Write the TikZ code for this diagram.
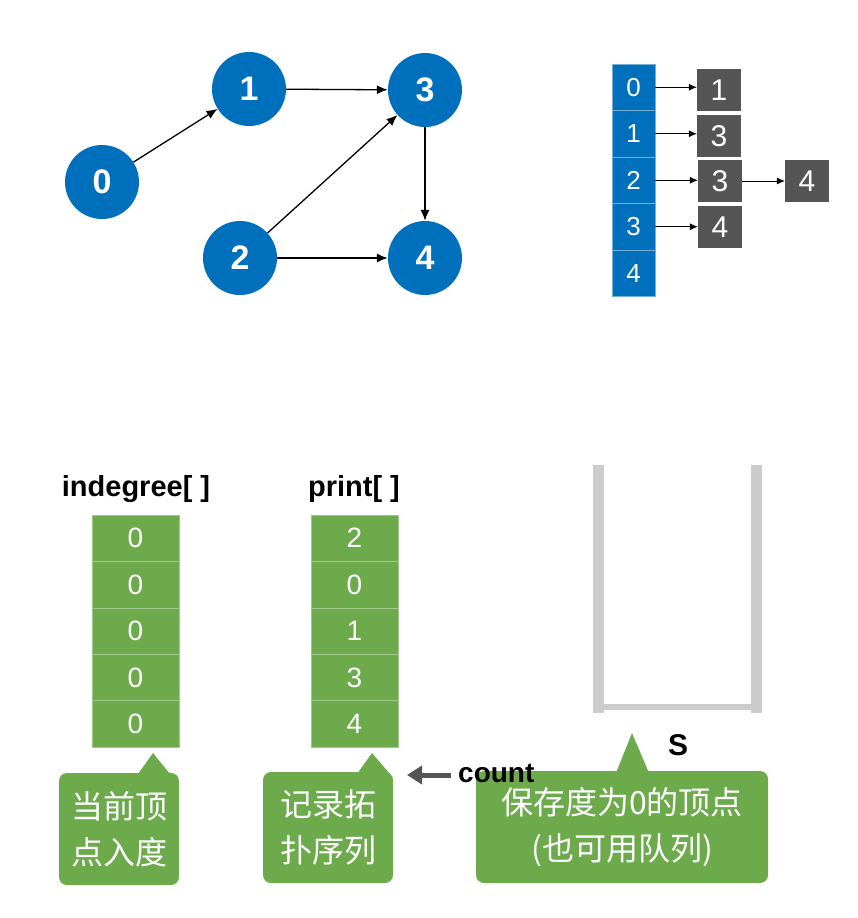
\documentclass[tikz,border=0pt]{standalone}
\usepackage{fontspec}
\setmainfont{Liberation Sans}
\newfontfamily\cjk{Noto Sans CJK SC}
\usetikzlibrary{arrows.meta}
\definecolor{vblue}{RGB}{0,112,188}
\definecolor{cellgreen}{RGB}{108,170,76}
\definecolor{boxgray}{RGB}{85,85,85}
\definecolor{stackgray}{RGB}{204,204,204}
\begin{document}
\begin{tikzpicture}[x=1pt,y=-1pt,
    vertex/.style={circle,fill=vblue,text=white,minimum size=74pt,inner sep=0pt,
      font=\fontsize{34}{34}\selectfont\bfseries},
    edge/.style={-{Latex[length=11pt,width=9pt]},line width=1.3pt},
    adjcell/.style={rectangle,fill=vblue,draw=vblue!55!white,line width=0.6pt,
      minimum width=43pt,minimum height=46.5pt,inner sep=0pt,text=white,
      font=\fontsize{26}{26}\selectfont},
    listbox/.style={rectangle,fill=boxgray,minimum width=44pt,minimum height=42pt,
      inner sep=0pt,text=white,font=\fontsize{30}{30}\selectfont},
    link/.style={-{Latex[length=8pt,width=7pt]},line width=0.8pt},
    arrcell/.style={rectangle,fill=cellgreen,draw=cellgreen!65!white,line width=0.6pt,
      minimum width=87pt,minimum height=46.4pt,inner sep=0pt,text=white,
      font=\fontsize{28}{28}\selectfont},
    title/.style={font=\fontsize{29}{29}\selectfont\bfseries},
    callbox/.style={rectangle,rounded corners=8pt,fill=cellgreen,text=white,
      align=center,inner sep=0pt,font=\cjk\fontsize{32}{46}\selectfont},
    bar/.style={fill=stackgray}]
\useasboundingbox (0,0) rectangle (858,918);

% graph
\node[vertex] (v0) at (102,182) {0};
\node[vertex] (v1) at (249,89) {1};
\node[vertex] (v3) at (425,90) {3};
\node[vertex] (v2) at (240,258) {2};
\node[vertex] (v4) at (425,258) {4};
\draw[edge] (v0) -- (v1);
\draw[edge] (v1) -- (v3);
\draw[edge] (v2) -- (v3);
\draw[edge] (v2) -- (v4);
\draw[edge] (v3) -- (v4);

% adjacency list
\foreach \i in {0,...,4}
  \node[adjcell] (a\i) at (633.5,{87.25+46.5*\i}) {\i};
\node[listbox] (b0) at (719,90) {1};
\node[listbox] (b1) at (719,136) {3};
\node[listbox] (b2) at (720,181) {3};
\node[listbox] (b3) at (720,227) {4};
\node[listbox] (b4) at (807,181) {4};
\draw[link] (a0.east) -- (a0.east -| b0.west);
\draw[link] (a1.east) -- (a1.east -| b1.west);
\draw[link] (a2.east) -- (a2.east -| b2.west);
\draw[link] (a3.east) -- (a3.east -| b3.west);
\draw[link] (b2.east) -- (b4.west);

% arrays
\node[title] (tdeg) at (136,489) {indegree[ ]};
\node[title] (tprt) at (354,489) {print[ ]};
\foreach \i in {0,...,4}
  \node[arrcell] (d\i) at (135.5,{538.2+46.4*\i}) {0};
\foreach \v [count=\i from 0] in {2,0,1,3,4}
  \node[arrcell] (p\i) at (354.5,{538.2+46.4*\i}) {\v};

% stack
\fill[bar] (593,465) rectangle (604,713);
\fill[bar] (751,465) rectangle (762,713);
\fill[bar] (604,704) rectangle (751,710);
\node[font=\fontsize{30}{30}\selectfont\bfseries] (stk) at (678,745) {S};

% callouts
\node[callbox,minimum width=120pt,minimum height=112pt] (c1) at (119,829) {当前顶\\点入度};
\fill[cellgreen] (138,774) -- (153,753) -- (170,774) -- cycle;
\node[callbox,minimum width=130pt,minimum height=111pt] (c2) at (328,827.5) {记录拓\\扑序列};
\fill[cellgreen] (357,774) -- (372,753) -- (390,774) -- cycle;
\node[callbox,minimum width=292pt,minimum height=112pt] (c3) at (622,827) {保存度为0的顶点\\(也可用队列)};
\fill[cellgreen] (616,773) -- (632,733) -- (649,773) -- cycle;

% count pointer
\node[font=\fontsize{28}{28}\selectfont\bfseries,anchor=west,inner sep=0pt] (cnt) at (458,773) {count};
\coordinate (cnttip) at (407,775);
\draw[-{Triangle[length=15pt,width=18pt]},line width=5pt,boxgray,shorten <=7pt] (cnt.west |- cnttip) -- (cnttip);
\end{tikzpicture}
\end{document}
